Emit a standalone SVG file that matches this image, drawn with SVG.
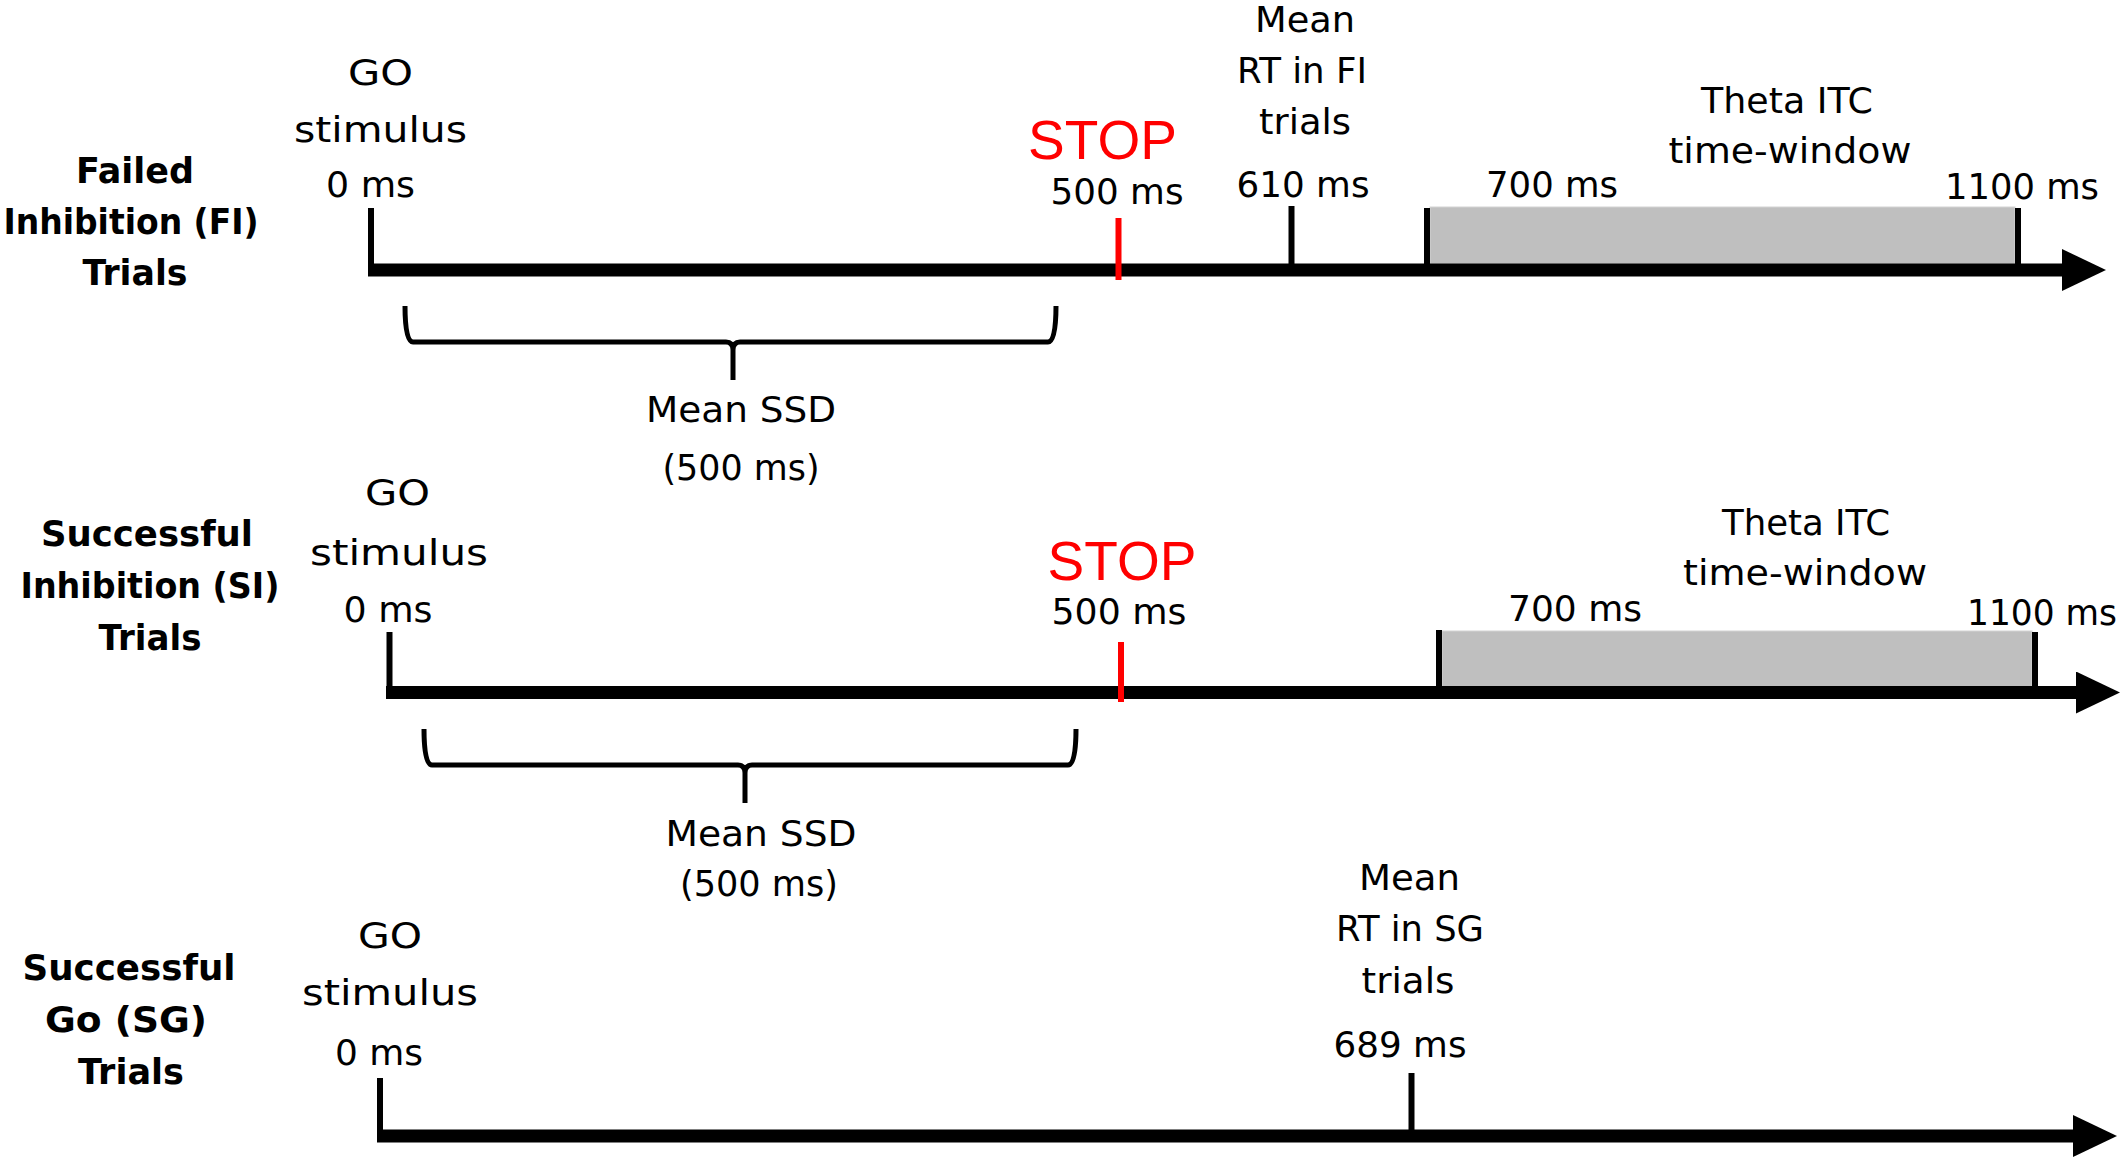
<svg xmlns="http://www.w3.org/2000/svg" width="2128" height="1165" viewBox="0 0 2128 1165">
<style>
.t{font-family:"DejaVu Sans","Liberation Sans",sans-serif;font-size:35px;fill:#000;text-anchor:middle}
.b{font-family:"DejaVu Sans","Liberation Sans",sans-serif;font-size:35px;font-weight:bold;fill:#000;text-anchor:middle}
.stop{font-family:"Liberation Sans",Arial,sans-serif;font-size:55px;fill:#ff0000;text-anchor:middle}
.axis{stroke:#000;stroke-width:13;fill:none}
.tick{stroke:#000;stroke-width:6}
.rtick{stroke:#ff0000;stroke-width:6}
.win{fill:#bfbfbf;stroke:#d4d4d4;stroke-width:1}
.brace{fill:none;stroke:#000;stroke-width:5;stroke-linejoin:round}
</style>
<defs>
<marker id="arr" markerUnits="userSpaceOnUse" markerWidth="44" markerHeight="42" refX="2" refY="21" orient="auto">
<path d="M0,0 L44,21 L0,42 z" fill="#000"/>
</marker>
</defs>
<rect width="2128" height="1165" fill="#fff"/>

<!-- Row labels -->
<g id="label-fi">
<text class="b" x="135" y="183" textLength="118" lengthAdjust="spacingAndGlyphs">Failed</text>
<text class="b" x="131" y="234" textLength="255" lengthAdjust="spacingAndGlyphs">Inhibition (FI)</text>
<text class="b" x="135" y="285" textLength="105" lengthAdjust="spacingAndGlyphs">Trials</text>
</g>
<g id="label-si">
<text class="b" x="147" y="546" textLength="212" lengthAdjust="spacingAndGlyphs">Successful</text>
<text class="b" x="150" y="598" textLength="259" lengthAdjust="spacingAndGlyphs">Inhibition (SI)</text>
<text class="b" x="150" y="650" textLength="103" lengthAdjust="spacingAndGlyphs">Trials</text>
</g>
<g id="label-sg">
<text class="b" x="129" y="980" textLength="213" lengthAdjust="spacingAndGlyphs">Successful</text>
<text class="b" x="126" y="1032" textLength="162" lengthAdjust="spacingAndGlyphs">Go (SG)</text>
<text class="b" x="131" y="1084" textLength="106" lengthAdjust="spacingAndGlyphs">Trials</text>
</g>

<!-- Time windows -->
<g id="window-fi"><rect class="win" x="1430" y="207" width="585" height="57"/></g>
<g id="window-si"><rect class="win" x="1442" y="631" width="590" height="56"/></g>

<!-- Connectors: axes, ticks, braces -->
<g id="connectors">
<line class="axis" x1="368" y1="270" x2="2064" y2="270" marker-end="url(#arr)"/>
<line class="tick" x1="371" y1="208" x2="371" y2="270"/>
<line class="tick" x1="1291.5" y1="206" x2="1291.5" y2="270"/>
<line class="tick" x1="1427" y1="208" x2="1427" y2="270"/>
<line class="tick" x1="2018" y1="208" x2="2018" y2="270"/>
<line class="rtick" x1="1118.5" y1="218" x2="1118.5" y2="280"/>
<path class="brace" d="M405,306 Q405,342 413,342 L726,342 Q733,342 733,350 L733,380 M733,350 Q733,342 740,342 L1048,342 Q1056,342 1056,306"/>

<line class="axis" x1="386" y1="692.5" x2="2078" y2="692.5" marker-end="url(#arr)"/>
<line class="tick" x1="389.5" y1="632" x2="389.5" y2="692"/>
<line class="tick" x1="1439" y1="630" x2="1439" y2="692"/>
<line class="tick" x1="2035" y1="632" x2="2035" y2="692"/>
<line class="rtick" x1="1121" y1="642" x2="1121" y2="702"/>
<path class="brace" d="M424,729 Q424,765 432,765 L738,765 Q745,765 745,773 L745,803 M745,773 Q745,765 752,765 L1068,765 Q1076,765 1076,729"/>

<line class="axis" x1="377" y1="1136" x2="2075" y2="1136" marker-end="url(#arr)"/>
<line class="tick" x1="380" y1="1078" x2="380" y2="1136"/>
<line class="tick" x1="1411.5" y1="1073" x2="1411.5" y2="1136"/>
</g>

<!-- Row 1 nodes -->
<g id="go-fi">
<text class="t" x="380.5" y="85" textLength="65" lengthAdjust="spacingAndGlyphs">GO</text>
<text class="t" x="380.5" y="142" textLength="173" lengthAdjust="spacingAndGlyphs">stimulus</text>
<text class="t" x="370.5" y="197" textLength="89" lengthAdjust="spacingAndGlyphs">0 ms</text>
</g>
<g id="stop-fi">
<text class="stop" x="1102.5" y="159">STOP</text>
<text class="t" x="1117" y="204" textLength="133" lengthAdjust="spacingAndGlyphs">500 ms</text>
</g>
<g id="rt-fi">
<text class="t" x="1305" y="32" textLength="100" lengthAdjust="spacingAndGlyphs">Mean</text>
<text class="t" x="1302" y="83" textLength="130" lengthAdjust="spacingAndGlyphs">RT in FI</text>
<text class="t" x="1305" y="134" textLength="92" lengthAdjust="spacingAndGlyphs">trials</text>
<text class="t" x="1303" y="197" textLength="133" lengthAdjust="spacingAndGlyphs">610 ms</text>
</g>
<g id="theta-fi">
<text class="t" x="1787" y="113" textLength="172" lengthAdjust="spacingAndGlyphs">Theta ITC</text>
<text class="t" x="1790" y="163" textLength="243" lengthAdjust="spacingAndGlyphs">time-window</text>
<text class="t" x="1552" y="197" textLength="132" lengthAdjust="spacingAndGlyphs">700 ms</text>
<text class="t" x="2022" y="199" textLength="154" lengthAdjust="spacingAndGlyphs">1100 ms</text>
</g>
<g id="ssd-fi">
<text class="t" x="741" y="422" textLength="190" lengthAdjust="spacingAndGlyphs">Mean SSD</text>
<text class="t" x="741" y="480" textLength="157" lengthAdjust="spacingAndGlyphs">(500 ms)</text>
</g>

<!-- Row 2 nodes -->
<g id="go-si">
<text class="t" x="397.5" y="505" textLength="65" lengthAdjust="spacingAndGlyphs">GO</text>
<text class="t" x="399" y="565" textLength="178" lengthAdjust="spacingAndGlyphs">stimulus</text>
<text class="t" x="388" y="622" textLength="89" lengthAdjust="spacingAndGlyphs">0 ms</text>
</g>
<g id="stop-si">
<text class="stop" x="1122" y="580">STOP</text>
<text class="t" x="1119" y="624" textLength="135" lengthAdjust="spacingAndGlyphs">500 ms</text>
</g>
<g id="theta-si">
<text class="t" x="1806" y="535" textLength="168" lengthAdjust="spacingAndGlyphs">Theta ITC</text>
<text class="t" x="1805" y="585" textLength="244" lengthAdjust="spacingAndGlyphs">time-window</text>
<text class="t" x="1575" y="621" textLength="134" lengthAdjust="spacingAndGlyphs">700 ms</text>
<text class="t" x="2042" y="625" textLength="150" lengthAdjust="spacingAndGlyphs">1100 ms</text>
</g>
<g id="ssd-si">
<text class="t" x="761" y="846" textLength="191" lengthAdjust="spacingAndGlyphs">Mean SSD</text>
<text class="t" x="759" y="896" textLength="158" lengthAdjust="spacingAndGlyphs">(500 ms)</text>
</g>

<!-- Row 3 nodes -->
<g id="go-sg">
<text class="t" x="390" y="948" textLength="64" lengthAdjust="spacingAndGlyphs">GO</text>
<text class="t" x="390" y="1005" textLength="176" lengthAdjust="spacingAndGlyphs">stimulus</text>
<text class="t" x="379" y="1065" textLength="88" lengthAdjust="spacingAndGlyphs">0 ms</text>
</g>
<g id="rt-sg">
<text class="t" x="1409.5" y="890" textLength="101" lengthAdjust="spacingAndGlyphs">Mean</text>
<text class="t" x="1410" y="941" textLength="148" lengthAdjust="spacingAndGlyphs">RT in SG</text>
<text class="t" x="1408" y="993" textLength="93" lengthAdjust="spacingAndGlyphs">trials</text>
<text class="t" x="1400" y="1057" textLength="133" lengthAdjust="spacingAndGlyphs">689 ms</text>
</g>
</svg>
